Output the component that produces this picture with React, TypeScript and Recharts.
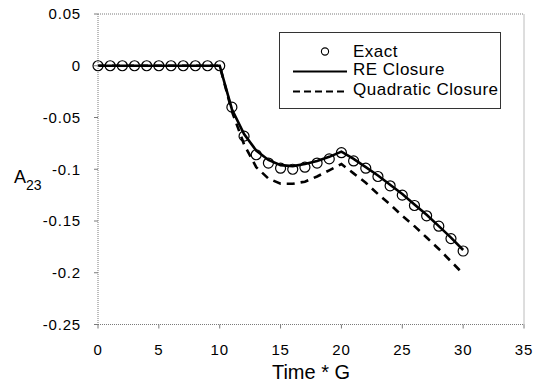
import { ComposedChart, Line, XAxis, YAxis, ReferenceLine } from 'recharts';

// time steps (Time * G)
const timeSteps = [
  0, 1, 2, 3, 4, 5, 6, 7, 8, 9, 10, 11, 12, 13, 14, 15,
  16, 17, 18, 19, 20, 21, 22, 23, 24, 25, 26, 27, 28, 29, 30,
];

// A23 from the exact solution
const exactValues = [
  0, 0, 0, 0, 0, 0, 0, 0, 0, 0, 0,
  -0.040, -0.068, -0.086, -0.094, -0.099, -0.100, -0.098, -0.094, -0.090, -0.084,
  -0.092, -0.099, -0.107, -0.116, -0.125, -0.135, -0.145, -0.155, -0.167, -0.179,
];

// A23 from the RE closure model
const reValues = [
  0, 0, 0, 0, 0, 0, 0, 0, 0, 0, 0,
  -0.042, -0.066, -0.082, -0.091, -0.096, -0.097, -0.095, -0.092, -0.088, -0.083,
  -0.090, -0.098, -0.106, -0.115, -0.124, -0.134, -0.144, -0.155, -0.166, -0.178,
];

// A23 from the quadratic closure model
const quadValues = [
  0, 0, 0, 0, 0, 0, 0, 0, 0, 0, 0,
  -0.044, -0.076, -0.098, -0.109, -0.114, -0.114, -0.112, -0.107, -0.101, -0.095,
  -0.104, -0.113, -0.124, -0.134, -0.145, -0.155, -0.166, -0.177, -0.189, -0.201,
];

const xTicks = [0, 5, 10, 15, 20, 25, 30, 35];
const yTicks = [-0.25, -0.2, -0.15, -0.1, -0.05, 0, 0.05];

const FONT = '"Liberation Sans", Arial, Helvetica, sans-serif';
const AXIS_GRAY = '#7a7a7a';

const data = timeSteps.map((t, i) => ({
  t,
  exact: exactValues[i],
  re: reValues[i],
  quad: quadValues[i],
}));

const tickStyle = { fontSize: 15, fill: '#000', fontFamily: FONT, letterSpacing: 0.8 };

// legend box drawn over the upper right of the plot
function LegendBox() {
  return (
    <div
      style={{
        position: 'absolute',
        left: 279,
        top: 32,
        width: 222,
        height: 77,
        border: '1px solid #333',
        boxSizing: 'border-box',
        background: '#fff',
      }}
    >
      <svg width={220} height={75} style={{ display: 'block' }}>
        <g fontFamily={FONT} fontSize={17} letterSpacing={0.5} fill="#000">
          <circle cx={45} cy={18.5} r={3.6} fill="none" stroke="#000" strokeWidth={1.1} />
          <text x={73} y={23.5}>Exact</text>
          <line x1={13} x2={67} y1={38.5} y2={38.5} stroke="#000" strokeWidth={2} />
          <text x={73} y={42}>RE Closure</text>
          <line x1={13} x2={67} y1={58.5} y2={58.5} stroke="#000" strokeWidth={2} strokeDasharray="7 4" />
          <text x={73} y={61.5}>Quadratic Closure</text>
        </g>
      </svg>
    </div>
  );
}

export default function App() {
  return (
    <div style={{ position: 'absolute', left: 0, top: 0, width: 539, height: 390, background: '#fff' }}>
      <ComposedChart
        width={539}
        height={390}
        data={data}
        margin={{ top: 14, right: 15, left: 0, bottom: 0 }}
      >
        <XAxis
          dataKey="t"
          type="number"
          domain={[0, 35]}
          ticks={xTicks}
          interval={0}
          height={65.5}
          axisLine={{ stroke: AXIS_GRAY, strokeDasharray: '1 1' }}
          tickLine={{ stroke: AXIS_GRAY }}
          tickSize={4}
          tickMargin={16}
          tick={tickStyle}
          label={{
            content: (props: any) => {
              const vb = props.viewBox;
              return (
                <text
                  x={vb.x + vb.width / 2}
                  y={vb.y + 54.5}
                  textAnchor="middle"
                  fontSize={20}
                  fontFamily={FONT}
                  fill="#000"
                >
                  Time * G
                </text>
              );
            },
          }}
        />
        <YAxis
          type="number"
          domain={[-0.25, 0.05]}
          ticks={yTicks}
          interval={0}
          width={98}
          axisLine={{ stroke: AXIS_GRAY, strokeDasharray: '1 1' }}
          tickLine={{ stroke: AXIS_GRAY }}
          tickSize={4}
          tickMargin={13}
          tick={tickStyle}
          tickFormatter={(v: number) => String(Number(v.toFixed(2)))}
          label={{
            content: (props: any) => {
              const vb = props.viewBox;
              const cy = vb.y + vb.height / 2;
              return (
                <text x={14} y={cy + 14} fontFamily={FONT} fill="#000">
                  <tspan fontSize={18}>A</tspan>
                  <tspan fontSize={14} dy={6.5}>23</tspan>
                </text>
              );
            },
          }}
        />
        {/* dotted frame on the top and right of the plot area */}
        <ReferenceLine y={0.05} stroke={AXIS_GRAY} strokeDasharray="1 1" />
        <ReferenceLine x={35} stroke={AXIS_GRAY} strokeDasharray="1 1" />

        <Line
          dataKey="quad"
          type="linear"
          stroke="#000"
          strokeWidth={2.6}
          strokeDasharray="8 6"
          dot={false}
          isAnimationActive={false}
        />
        <Line
          dataKey="re"
          type="linear"
          stroke="#000"
          strokeWidth={2.6}
          dot={false}
          isAnimationActive={false}
        />
        <Line
          dataKey="exact"
          type="linear"
          stroke="none"
          dot={{ r: 5, fill: 'none', stroke: '#000', strokeWidth: 1.2 }}
          isAnimationActive={false}
        />
      </ComposedChart>
      <LegendBox />
    </div>
  );
}
